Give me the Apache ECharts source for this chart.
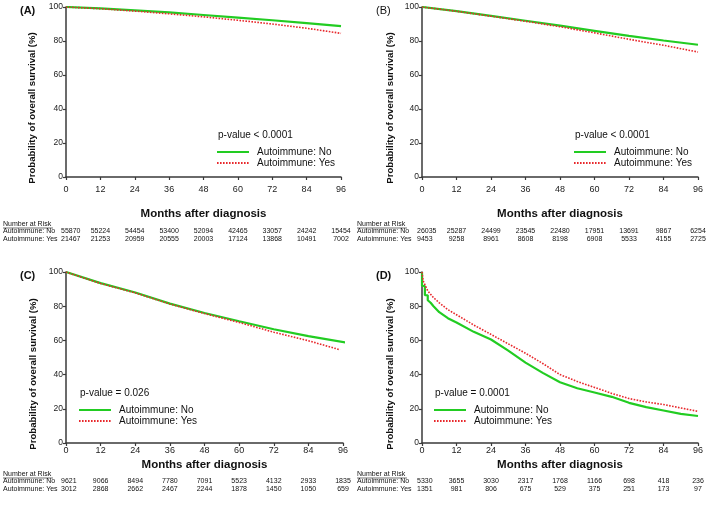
<!DOCTYPE html>
<html>
<head>
<meta charset="utf-8">
<script src="https://cdn.jsdelivr.net/npm/echarts@6/dist/echarts.min.js"></script>
<style>
  html, body { margin: 0; padding: 0; background: #fff; }
  #chart { width: 709px; height: 505px; }
</style>
</head>
<body>
<div id="chart"></div>
<script>
// x ticks (months) and y ticks
const xTicks = [0, 12, 24, 36, 48, 60, 72, 84, 96];
const groupNames = ["Autoimmune: No", "Autoimmune: Yes"];
const panelLabels = ["(A)", "(B)", "(C)", "(D)"];
const pValues = ["p-value < 0.0001", "p-value < 0.0001", "p-value = 0.026", "p-value = 0.0001"];

// survival curves (months, %)
const monthsA = [0, 12, 24, 36, 48, 60, 72, 84, 96];
const survANo = [100, 99.2, 98, 96.8, 95.3, 93.8, 92.2, 90.5, 88.8];
const survAYes = [100, 99, 97.6, 96, 94.2, 92.2, 90, 87.5, 84.5];

const monthsB = [0, 12, 24, 36, 48, 60, 72, 84, 96];
const survBNo = [100, 97.6, 94.8, 91.9, 89, 86, 83, 80.3, 77.8];
const survBYes = [100, 97.5, 94.6, 91.6, 88.4, 84.8, 81, 77.5, 73.5];

const monthsCNo = [0, 12, 24, 36, 48, 60, 72, 84, 97];
const survCNo = [100, 93.5, 88, 81.5, 76, 71.2, 66.5, 62.5, 58.8];
const monthsCYes = [0, 12, 24, 36, 48, 60, 72, 84, 95];
const survCYes = [100, 93.3, 87.8, 81.3, 75.7, 70.5, 64.8, 59.8, 54.5];

const monthsDNo = [0, 0, 1, 1, 2, 2, 3, 4, 6, 9, 12, 18, 24, 30, 36, 42, 48, 54, 60, 66, 72, 78, 84, 90, 96];
const survDNo = [100, 91.8, 91.8, 86.4, 86.4, 83.5, 82, 80, 76.5, 73, 70.5, 65, 60.5, 54, 47, 41, 35.5, 32, 29.5, 27, 23.5, 21, 19, 17, 15.8];
const monthsDYes = [0, 0.4, 2, 4, 6, 9, 12, 18, 24, 30, 36, 42, 48, 54, 60, 66, 72, 78, 84, 90, 96];
const survDYes = [100, 94.8, 89, 85, 82, 78, 75, 69, 63.5, 58, 52.5, 46.5, 40, 36, 32.5, 29, 26, 24, 22.5, 20.5, 18.5];

// number at risk tables
const riskANo = [55870, 55224, 54454, 53400, 52094, 42465, 33057, 24242, 15454];
const riskAYes = [21467, 21253, 20959, 20555, 20003, 17124, 13868, 10491, 7002];
const riskBNo = [26035, 25287, 24499, 23545, 22480, 17951, 13691, 9867, 6254];
const riskBYes = [9453, 9258, 8961, 8608, 8198, 6908, 5533, 4155, 2725];
const riskCNo = [9621, 9066, 8494, 7780, 7091, 5523, 4132, 2933, 1835];
const riskCYes = [3012, 2868, 2662, 2467, 2244, 1878, 1450, 1050, 659];
const riskDNo = [5330, 3655, 3030, 2317, 1768, 1166, 698, 418, 236];
const riskDYes = [1351, 981, 806, 675, 529, 375, 251, 173, 97];

const panels = [
  { no: [monthsA, survANo], yes: [monthsA, survAYes], risk: [riskANo, riskAYes] },
  { no: [monthsB, survBNo], yes: [monthsB, survBYes], risk: [riskBNo, riskBYes] },
  { no: [monthsCNo, survCNo], yes: [monthsCYes, survCYes], risk: [riskCNo, riskCYes] },
  { no: [monthsDNo, survDNo], yes: [monthsDYes, survDYes], risk: [riskDNo, riskDYes] }
];

// layout
const grids = [
  { left: 66, top: 7, width: 275, height: 170 },
  { left: 422, top: 7, width: 276, height: 170 },
  { left: 66, top: 272, width: 277, height: 171 },
  { left: 422, top: 272, width: 276, height: 171 }
];
const layout = [
  { label: [20, 11], ytitle: [32, 108], pv: [218, 135], legend: [216, 147], risk: [3, 224], nameGap: 31, labelMargin: 8 },
  { label: [376, 11], ytitle: [390, 108], pv: [575, 135], legend: [573, 147], risk: [357, 224], nameGap: 31, labelMargin: 8 },
  { label: [20, 276], ytitle: [33, 374], pv: [80, 393], legend: [78, 405], risk: [3, 474], nameGap: 16, labelMargin: 3 },
  { label: [376, 276], ytitle: [390, 374], pv: [435, 393], legend: [433, 405], risk: [357, 474], nameGap: 16, labelMargin: 3 }
];

const GREEN = "#22cc22";
const RED = "#e8282c";
const AXIS = "#3a3a3a";
const FONT = "Liberation Sans, Arial, sans-serif";

const pairs = (xs, ys) => xs.map((x, i) => [x, ys[i]]);

const option = {
  animation: false,
  textStyle: { fontFamily: FONT },
  grid: grids,
  xAxis: grids.map((g, i) => ({
    gridIndex: i,
    type: "value",
    min: 0,
    max: 96,
    interval: 12,
    name: "Months after diagnosis",
    nameLocation: "middle",
    nameGap: layout[i].nameGap,
    nameTextStyle: { fontSize: 11.5, fontWeight: "bold", color: "#111", fontFamily: FONT },
    axisLine: { lineStyle: { color: AXIS, width: 1.5 } },
    axisTick: { length: 3, lineStyle: { color: AXIS, width: 1.2 } },
    axisLabel: { fontSize: 9, color: "#222", margin: layout[i].labelMargin },
    splitLine: { show: false }
  })),
  yAxis: grids.map((g, i) => ({
    gridIndex: i,
    type: "value",
    min: 0,
    max: 100,
    interval: 20,
    axisLine: { show: true, lineStyle: { color: AXIS, width: 1.5 } },
    axisTick: { show: true, length: 3, lineStyle: { color: AXIS, width: 1.2 } },
    axisLabel: { fontSize: 8.5, color: "#222", margin: 3 },
    splitLine: { show: false }
  })),
  legend: layout.map(l => ({
    left: l.legend[0],
    top: l.legend[1],
    orient: "vertical",
    data: groupNames,
    itemWidth: 32,
    itemHeight: 10,
    itemGap: 1,
    padding: 0,
    itemStyle: { opacity: 0 },
    textStyle: { fontSize: 10, color: "#111", fontFamily: FONT, padding: [0, 0, 0, 3] }
  })),
  series: []
};

panels.forEach((p, i) => {
  option.series.push({
    name: groupNames[0],
    type: "line",
    xAxisIndex: i,
    yAxisIndex: i,
    showSymbol: false,
    symbol: "none",
    data: pairs(p.no[0], p.no[1]),
    lineStyle: { color: GREEN, width: 2.2 },
    itemStyle: { color: GREEN },
    z: 2
  });
  option.series.push({
    name: groupNames[1],
    type: "line",
    xAxisIndex: i,
    yAxisIndex: i,
    showSymbol: false,
    symbol: "none",
    data: pairs(p.yes[0], p.yes[1]),
    lineStyle: { color: RED, width: 1.6, type: [1.6, 1.4] },
    itemStyle: { color: RED },
    z: 3
  });
});

const chart = echarts.init(document.getElementById("chart"), null, { renderer: "canvas" });
chart.setOption(option);

// text elements: panel labels, y titles, p-values, number-at-risk tables
const graphic = [];
layout.forEach((l, i) => {
  graphic.push({
    type: "text", x: l.label[0], y: l.label[1],
    style: { text: panelLabels[i], fontSize: 11, fontWeight: i === 1 ? "normal" : "bold", fill: "#111", fontFamily: FONT, verticalAlign: "middle" }
  });
  graphic.push({
    type: "text", x: l.ytitle[0], y: l.ytitle[1], rotation: Math.PI / 2,
    style: { text: "Probability of overall survival (%)", fontSize: 9.6, fontWeight: "bold", fill: "#111", fontFamily: FONT, align: "center", verticalAlign: "middle" }
  });
  graphic.push({
    type: "text", x: l.pv[0], y: l.pv[1],
    style: { text: pValues[i], fontSize: 10, fill: "#111", fontFamily: FONT, verticalAlign: "middle" }
  });
  // number at risk
  const rx = l.risk[0], ry = l.risk[1];
  graphic.push({
    type: "text", x: rx, y: ry,
    style: { text: "Number at Risk", fontSize: 7, fill: "#111", fontFamily: FONT, verticalAlign: "middle" }
  });
  graphic.push({
    type: "line", shape: { x1: rx, y1: ry + 4, x2: rx + 50, y2: ry + 4 },
    style: { stroke: "#111", lineWidth: 0.6 }
  });
  panels[i].risk.forEach((row, r) => {
    const y = ry + 7.5 + r * 7.5;
    graphic.push({
      type: "text", x: rx, y: y,
      style: { text: groupNames[r], fontSize: 7, fill: "#111", fontFamily: FONT, verticalAlign: "middle" }
    });
    row.forEach((v, k) => {
      const px = chart.convertToPixel({ xAxisIndex: i }, xTicks[k]);
      graphic.push({
        type: "text", x: k === 0 ? px - 5 : px, y: y,
        style: { text: String(v), fontSize: 7, fill: "#111", fontFamily: FONT, align: k === 0 ? "left" : "center", verticalAlign: "middle" }
      });
    });
  });
});
chart.setOption({ graphic: graphic });
</script>
</body>
</html>
